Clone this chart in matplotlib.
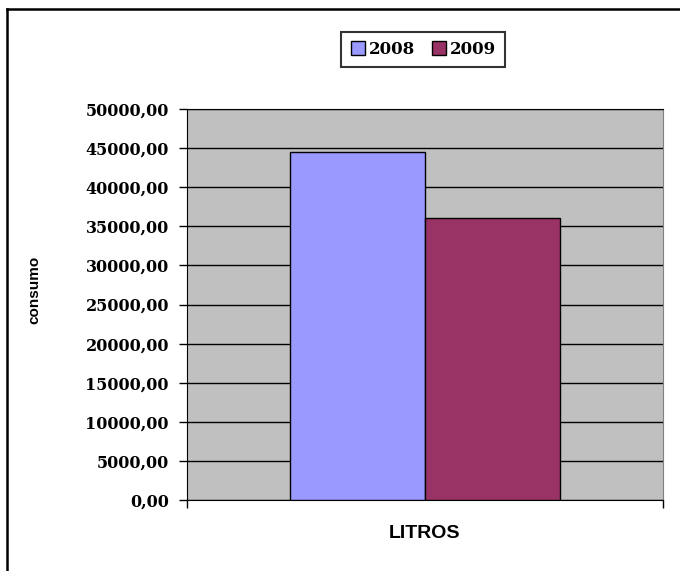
import numpy as np
import matplotlib.pyplot as plt
from matplotlib.lines import Line2D
from matplotlib.ticker import FuncFormatter

# datos
categoria = ["LITROS"]
anos = ["2008", "2009"]
consumo = [44450.0, 36050.0]
colores = ["#9999FF", "#993366"]

fig = plt.figure(figsize=(6.8, 5.71), dpi=100)
ax = fig.add_axes([187/680, 1-500/571, 476/680, 391/571])
ax.set_facecolor("#C0C0C0")

w = 0.283
x = np.arange(len(categoria))
for i in range(len(anos)):
    ax.bar(x + (i - 0.5)*w, consumo[i], width=w, color=colores[i],
           edgecolor="black", linewidth=1, label=anos[i], zorder=3)

ax.set_ylim(0, 50000)
ax.set_xlim(-0.5, 0.5)
ax.set_yticks(np.arange(0, 50001, 5000))
ax.yaxis.set_major_formatter(FuncFormatter(lambda v, p: ("%.2f" % v).replace(".", ",")))
ax.grid(True, axis="y", color="black", linewidth=1, zorder=1)
ax.set_axisbelow(True)

ax.set_xticks(x)
ax.set_xticklabels(categoria)
ax.set_xticks([-0.5, 0.5], minor=True)
ax.tick_params(axis="x", which="major", length=0, pad=18)
ax.tick_params(axis="x", which="minor", length=6, width=1, direction="out")
ax.tick_params(axis="y", length=6, width=1, direction="out", pad=7)

for t in ax.get_yticklabels():
    t.set_fontfamily("DejaVu Serif")
    t.set_fontweight("bold")
    t.set_fontsize(11.5)
for t in ax.get_xticklabels():
    t.set_fontfamily("Liberation Sans")
    t.set_fontweight("bold")
    t.set_fontsize(14)

ax.set_ylabel("consumo", fontfamily="Liberation Sans", fontweight="bold", fontsize=11)
ax.yaxis.set_label_coords(-0.305, 0.537)

ax.spines["left"].set_color("black")
ax.spines["bottom"].set_color("black")
ax.spines["top"].set_color("black")
ax.spines["right"].set_color("#808080")

handles = [Line2D([], [], marker="s", linestyle="", markersize=10,
                  markerfacecolor=c, markeredgecolor="black") for c in colores]
leg = fig.legend(handles, anos, loc="center", bbox_to_anchor=(423/680, 1-49.5/571),
                 ncol=2, frameon=True, fancybox=False, handletextpad=0.15,
                 columnspacing=0.9, handlelength=1.0, borderpad=0.55,
                 prop={"family": "DejaVu Serif", "weight": "bold", "size": 12})
leg.get_frame().set_edgecolor("black")
leg.get_frame().set_linewidth(1.5)

# marco exterior del grafico
fig.add_artist(Line2D([7/680, 7/680], [0, 1-9/571], color="black", linewidth=1.8))
fig.add_artist(Line2D([7/680, 1], [1-9/571, 1-9/571], color="black", linewidth=1.8))

fig.savefig("out.png", dpi=100)
